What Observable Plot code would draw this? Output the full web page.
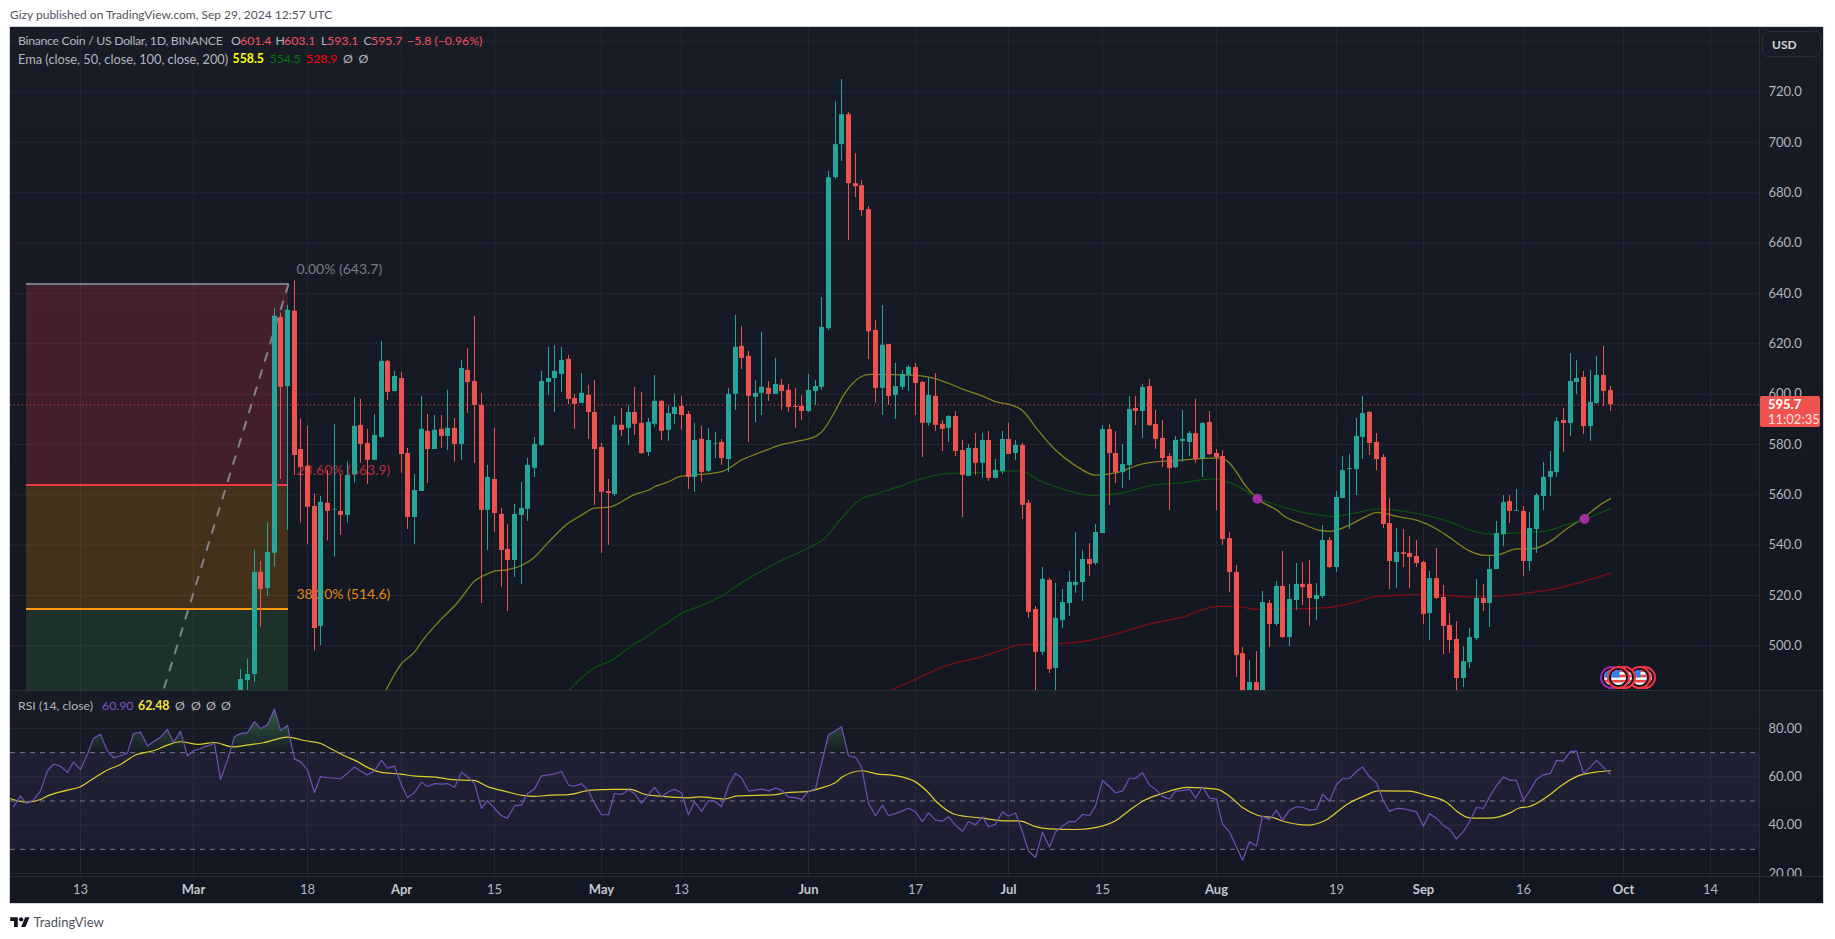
<!DOCTYPE html>
<html><head><meta charset="utf-8">
<script src="https://cdn.jsdelivr.net/npm/d3@7"></script>
<script src="https://cdn.jsdelivr.net/npm/@observablehq/plot@0.6"></script>
<style>
html,body{margin:0;padding:0;background:#fff;}
#page{position:relative;width:1835px;height:939px;overflow:hidden;font-family:Lato,"Liberation Sans",sans-serif;}
#page>*{position:absolute;}
.t{white-space:pre;line-height:1;font-size:12.3px;transform:translateY(-50%);}
.frame{left:9px;top:26px;width:1815px;height:878px;border:1px solid #d1d4dc;box-sizing:border-box;background:#131722;}
.div{background:#2a2e39;}
</style></head><body><div id="page"></div>
<script>
// ---- price data: one entry per day, first candle is 8 Mar 2024 (earlier ones sit below the pane)
const firstCandleDay = 7;
const opens = [478,486.2,488.6,529.2,522.8,536.8,630.5,603,632.9,578,
571.3,555.4,507.7,556.6,553.8,553.4,551.8,568.1,587.6,580.4,
573.7,582.8,613,601,606.2,576.4,551,561.3,585.2,578,
586,583.2,586.4,580,609.4,605,595.5,553.8,566.1,552.2,
538.3,533.9,551.8,554.2,570.5,579.6,604.6,606.2,607.8,613.8,
598.3,596.3,599.5,592.7,578.8,561.3,560.1,587.6,586.4,592.7,
588.4,576.8,588,597.1,585.6,591.9,595.1,591.9,566.9,582,
569.3,580.1,580.8,574,599.9,619,615,598.7,600.3,602.3,
599.9,603.5,601.5,595.1,595.1,593.1,601,602.7,626,686,
699.1,711,683.6,682.8,673.3,625.3,602.3,619.7,599.5,602.7,
607.4,610.6,604.6,588.4,599.1,588,586.4,591.1,577.6,567.3,
578.4,572.5,581.6,566.5,569.3,582,576.4,579.6,556.6,514.4,
497.4,526,491,510,516.8,524,525.1,534.3,532.7,544.6,
585.9,576.4,568.8,571.6,594.3,593.1,603,587.9,582.4,575.2,
570.8,581.2,580.8,584.3,574.4,588.7,576.4,575.2,542.6,529.1,
496.9,478,485.4,478,516.8,508.5,523.6,503.3,518,524.4,
524.4,518.4,519.6,541.8,531.1,558.5,570,570,582.8,592.7,
580.8,574.8,548.6,533.1,537,536.7,535.5,533.1,512.8,526.7,
519.2,508.1,502.5,487,493.3,502.9,518.8,516.8,530.3,544.2,
557.3,553.4,553.4,533.5,546.2,559.3,566.9,568.8,589.5,588.3,
604.6,606.6,587.1,596.3,607.4,601.4];
const highs = [490.6,494.6,537.9,533.5,549,633.9,632.2,635.2,645,590.2,
587.2,560.4,559.3,569.7,587.8,568.1,573.1,598.6,597.9,586,
591.9,620.9,613.4,609,608.6,578.4,568.1,599,591.9,591.5,
591.5,601.5,590.3,613.4,618,630.9,600.3,571.7,586.4,554.6,
548.2,556.2,564.9,574.4,582.8,609,618.6,619.3,618.6,615.4,
599.9,608.2,603.5,605.4,580.4,566.1,591.1,594.3,595.5,602.7,
600.7,590.3,607.4,597.5,595.5,599.9,599.1,593.1,588.4,587.2,
586.4,584.8,582,602.3,631.3,626.9,617,605.4,624.5,605,
614.2,605.8,603.8,602.3,599.5,607.8,605.4,638.4,688.4,716.2,
725,711.8,695.5,684.8,674.5,629.3,635.2,619.7,612.2,609.4,
611.4,612.2,605,606.2,608.2,589.5,591.5,593.1,581.6,580,
584.4,584.4,585.2,574,585.2,588.4,581.6,580.4,557.8,515.6,
531.1,526.8,524.8,522.4,529.5,545,537.9,540.6,548.2,587.5,
587.9,585.1,580,599,599,603.8,605.8,593.5,589.5,576.4,
583.2,593.5,585.1,597.9,588.7,593.1,578,577.6,545,531.9,
499.3,494.1,497.7,521.6,518,525.5,537.5,524.4,532.7,533.1,
533.9,524.7,547.8,543,561.3,575.2,576,590.3,599,593.1,
584.3,576,558.5,546.6,546.2,543.4,541.8,533.5,529.5,538.7,
524,512.8,509.6,499.7,506.9,526.3,524.3,535.5,549.4,559.7,
559.7,562.1,555.3,553,560.5,572.8,577.2,590.7,594.3,616.1,
613.4,609,609.4,615,618.9,603.1];
const lows = [474,482,485.4,507.4,519.7,531.3,566.1,545.8,567.7,548.8,
540.3,497.9,500.1,541.6,535.2,543.9,548.8,564.6,572.5,564.1,
573.7,582.4,597.5,601,568.5,546.2,540.3,561.3,564.5,578,
578.4,577.6,572.9,573.7,592.3,572.5,516.8,537.9,545,523.3,
513.6,527.2,524.4,549.4,566.9,579.2,599.5,592.7,600.7,595.8,
586,596.3,582,555.8,536.7,539.9,559.3,583.2,579.6,583.6,
576,575.2,586.8,581.6,581.2,588,585.6,562.1,561,564.9,
568.9,574.4,571.7,568.9,593.5,609.8,580.8,588.7,591.5,597.1,
599.9,593.5,592.7,586.4,589.5,592.7,595.5,601.5,625.2,685.2,
692.4,661,678.1,670.5,613.7,596.3,591.5,595.5,589.9,601.5,
601,591.5,574.8,587.2,585.2,577.2,580.8,575.2,551,567.3,
567.7,566.5,565.3,566.5,568.1,576,573.7,550.2,510.9,478,
496.2,489,478,506.9,511.7,520.8,517.6,527.5,531.9,544.6,
555.7,564.5,562.5,565.7,587.5,582.4,587.1,578,570.8,553.7,
570.4,572.8,575.2,572.4,566.9,575.6,553.7,539.8,521.2,487.4,
470,476,468,470,499.3,507.7,502.9,499.7,514,516,
507.7,510,518.8,530.7,529.1,558.5,546.2,559.7,574,575.6,
569.6,546.6,522.4,522.8,531.1,522.8,531.1,508.5,502.1,518.4,
496.5,497,482.2,483.4,491,502.1,513.6,507.3,530.3,539.4,
548.6,553.4,527.5,529.5,536.7,553.8,559.3,566.9,576.8,583.2,
599.8,584,581.2,595.9,595.1,593.1];
const closes = [486.6,488.6,529.2,522.4,537.1,630.9,602.7,633.3,575.6,570.9,
555,506.9,557,553.4,554,551.8,567.7,587.2,580,573.7,
583.6,613,600.7,607,576,551,561.7,586,578,585.6,
583.2,586.4,580,610.2,604.6,595.5,553.8,566.9,552.6,537.9,
533.9,552.2,554.6,571.7,580,605,606.2,609,613.4,597.9,
595.9,600.3,592.7,578,561,560.5,587.6,585.6,592.7,588,
576.4,588.8,597.1,585.2,592.3,594.7,591.5,566.9,581.6,568.9,
581.6,580.4,574.4,599.9,618.6,614.2,599.1,600.3,602.7,599.9,
603.8,601,594.7,594.7,593.1,601.5,603,626.5,686,699.1,
711,683.6,682.4,672.9,624.8,602.3,619.4,599.1,603,607.8,
610.6,604.2,588.4,599.5,587.6,586,591.1,577.2,567.7,578.4,
572.5,581.6,566.5,569.7,582,576,579.6,555.8,513.3,497.4,
526.4,490.6,510.9,517.2,525.2,525.2,534.3,532.3,545,585.9,
576.4,568.8,572,593.9,593.1,602.6,587.5,582,574.4,570.4,
581.6,582,584.3,574,588.3,576,574.8,542.2,529.1,496.1,
478,485.4,475,517.2,508.5,523.6,503.3,518.4,524.4,523.1,
518.8,520,541.8,531.1,558.9,569.6,570.4,583.2,592.3,580.4,
574,548.2,533.5,537.1,536.3,535.1,532.7,512.4,526.7,518.8,
507.7,502.1,487,493.7,503.3,518.8,516.8,530.3,544.6,556.9,
553.4,553.7,533.5,546.6,559.7,566.9,569.2,589.1,588.3,605,
606.2,587.1,596.7,607.4,601,595.7];

// ---- EMAs read at sample days (days counted from 1 Mar 2024)
const ema50Days = [28.6,31,33,34.2,37,39.3,42.1,43.9,45,47,49,51,53,55.9,58,59.9,62.2,65.9,67.9,69.2,70.9,72.9,75.9,79.1,82.1,84.9,87.9,90.9,93.1,94,96.1,97.1,99.9,101.1,108.1,112.8,115.1,118.1,119.8,122.8,124,126,129,132,135,138,142,144.3,147.3,150.3,153.3,154.8,156,157.2,159.2,162.2,163.2,166,168.2,170.2,173.2,175.2,177.2,180.2,183.2,186.2,188.2,190.7,193.2,194.7,198.2,200.2,203.2,205.2,208.1,210.7,212];
const ema50Vals = [482,492.9,497.5,502.1,510.7,516.7,526,528.6,529.7,530.2,531.9,535.2,541.2,548.5,551.9,554.7,555.1,560.1,561.7,563.5,565,567.3,568.1,569.3,574,577,579.9,581.6,583.2,584.9,593.5,598.8,607,607.8,607.4,604.5,602,599.2,597.1,595.2,593.5,586.9,577.8,571.6,567.8,568.7,572.3,573.2,573.6,574.3,574.7,573,569,564.1,558.4,553.7,551.5,548.4,546.1,545.5,548.2,551.1,553,551.3,549.8,546.2,542.5,538.1,535.9,535.9,538.5,538.5,541.8,545.8,551.1,556.4,558.5];
const ema100Days = [56,57.9,59.9,62.2,65.9,67.9,69.2,71.1,72.9,75.9,79.6,82.1,87.9,93.1,94.1,96.9,100,101.8,105.3,108.1,112.8,119.3,123.3,124.8,126,129,132,135,139,143.3,147.3,152.8,154,156,159.2,162.7,168.2,170.7,173.7,177.2,180.2,183.7,187.7,191.2,194.7,198.2,202.2,205.2,208.2,212];
const ema100Vals = [482,486.9,491.3,493.8,500.8,503.7,506.4,509.4,512.7,516,520.7,525.3,533.9,540.3,541.9,550.7,558.4,560.1,563,565.7,568.4,569,569.5,568.6,566.5,563.2,560.8,559.7,560.8,563.7,564.6,566.3,565.7,563.7,558.8,555.4,552,551.4,552.7,554.4,553.8,552.2,549.5,545.8,544.3,544.9,545.5,547.8,550.4,554.5];
const ema200Days = [104.3,107.8,112.8,117.8,120.8,123.8,129,134,138.8,142.8,147.8,153.3,155.8,159.3,164.8,169.7,173.2,177.2,180.7,183.2,187.7,191.2,194.7,199.7,203.2,207.2,212];
const ema200Vals = [482.3,486.5,492.2,495.5,498.1,500.5,500.8,502.1,505.4,508.4,511.3,515.7,515.7,514.5,514.7,515.2,516.9,519.6,520.1,520.4,520,519.3,519.6,521,522.4,525,528.9];
const crossDays = [159.2,208.1];
const crossVals = [558.4,550.4];

// ---- RSI: one value per day from 3 Feb 2024 (day -27)
const firstRsiDay = -27;
const rsi = [47.6,52,49,50.3,54.2,62.5,65.2,64.4,61.8,66.1,63,69.4,75.9,77.5,70.6,67.9,68.6,69.9,77.9,78.5,72.7,74.5,76.4,79.6,74.2,78.8,68.6,
70.8,71.7,72.8,73.8,58.9,66.9,76.6,77.9,78.3,82.8,79.9,81.5,87.9,79.2,81.2,67.3,66.3,62.8,53.5,60.1,59.6,59.4,59.2,61.4,64.1,62.3,60.8,62.5,66.8,63.6,64.4,
56.6,51.3,53.5,57.8,56,57.2,57,57.2,55.6,61.9,60,57.2,46.9,50.1,46.9,43.9,42.9,48,48.4,53.1,55,60.4,60.8,61.2,62.2,56.6,56.1,57.2,54.2,49,44.3,44.3,53.1,
52.7,54.5,53.1,49,52.7,55.6,51.7,53.8,54.8,53.4,44.3,49.7,45.7,50.2,49.7,47.6,56.3,61.4,59.6,54.1,54.5,55,54.2,55.3,54.5,51.6,51.4,50.6,54.1,55,65.5,77.4,79,80.7,
68.6,68.1,64.1,49.1,43.9,48.3,44,44.8,45.9,47,45.5,41.5,45.1,42.1,41.7,43.4,39.9,37.5,41.5,40.1,43.4,39.3,40.4,45.5,43.7,45,37.2,29.2,26.6,37.1,31,37.2,39.6,41.5,41.5,44.4,44,47.9,
58.5,55.9,53.4,54.1,59.4,59.4,61.7,56.6,54.8,51.9,50.8,54.1,54.3,54.9,51.2,55.9,51.2,50.8,
40.4,37.2,31,25.5,33.1,31.4,43.7,42.3,46.2,42.1,46.2,47.6,47.4,46.2,46.5,52.8,49.9,56.8,59.2,59.3,62.2,64.1,60,57.5,49.9,45.7,46.9,46.8,46.2,45.5,39.6,44.8,42.8,39.9,38.3,34.3,37.4,41.4,47.3,46.9,51.7,56.4,59.9,58.6,58.5,50.3,54.1,58.9,60.8,61.4,66.8,66.6,70.5,70.6,61.4,64,66.8,63.9,60.9];
const rsiMaDays = [-27.5,-25,-23,-22,-19,-17,-15,-13,-11,-8.8,-6.1,-4,-2,0.7,3,5.7,8.1,10.4,14,16.7,18.9,20.8,22.9,24,26.1,27.9,30.9,33.2,36.2,38.9,41.8,44.2,46.3,49.2,51,53.4,56,59.3,62.8,65.4,67.5,69.8,74,75.7,79.3,81.4,87,88.5,91.7,94,96.2,97.1,100.1,102.1,104.7,108,109.8,111.2,114.2,118,120.7,123.7,126,128,131.9,134.9,137.9,140.2,142.3,145,148.8,153,155,156.9,159.2,161.9,163,166.9,169.3,172.8,175.2,177.3,182,184.4,187.6,189.1,191.1,193.8,197.1,198.3,200,203,204.5,207.1,209.8,212];
const rsiMaVals = [50.9,49.5,50.6,52.1,54.5,55.9,59.3,62.8,65.1,69,70.8,73.1,74.5,73.4,74.2,72.4,73.2,74.1,76.4,74.9,73.8,71.3,68.3,66.9,63.7,61.9,61.1,60.3,59.9,58.8,58.5,55.6,54.2,52.3,51.9,52.4,52.6,54.5,54.8,54.8,52.8,52,51.3,51.7,50.8,52.1,52.6,53.4,53.9,55.4,57.9,60,62.5,61.2,60.6,57.9,53.8,49.7,44.3,42.9,41.9,41.7,39.4,38.5,38.2,39,41.8,46.5,50.3,53.1,55.6,54.9,52,47.3,44.1,42.8,41.7,40,41.8,49,52.1,54.2,54.1,52.4,49.2,45.5,42.9,42.9,45.2,47,47.7,52.8,56.1,60.3,61.9,62.5];

// ---- axes, fibonacci, events
const priceTicks = [500,520,540,560,580,600,620,640,660,680,700,720];
const priceGrid = [...priceTicks,740];
const rsiTicks = [20,40,60,80];
const rsiLevels = [70,50,30];
const dateTickDays = [-17,0,17,31,45,61,73,92,108,122,136,153,171,184,199,214,227];
const dateTickLabels = ["13","Mar","18","Apr","15","May","13","Jun","17","Jul","15","Aug","19","Sep","16","Oct","14"];
const fibStartDay = -25.06, fibEndDay = 14.1;
const fibLevels = [643.7,563.9,514.6];
const fibLow = 305.7;
const fibTexts = ["0.00% (643.7)","23.60% (563.9)","38.20% (514.6)"];
const fibColors = ["#787b86","#f23645","#ff9800"];
const lastClose = 595.7;

const day = d => new Date(Date.UTC(2024,2,1) + d*864e5);
const xDomain = [day(-27.47), day(234.36)];
const W = 1813, MR = 64;
const xScale = {type:"utc", domain:xDomain, round:true, axis:null};
const font = "Lato, 'Liberation Sans', sans-serif";
const gridColor = "#232733", axisText = "#b2b5be";
const UP = "#26a69a", DOWN = "#ef5350";
const candles = opens.map((o,i)=>({date:day(firstCandleDay+i),o,h:highs[i],l:lows[i],c:closes[i]}));
const pairs = (ds,vs)=>ds.map((d,i)=>({date:day(d),v:vs[i]}));
const dateTicks = dateTickDays.map(day);
const bgGrad = "linear-gradient(#181c27,#131722)";
const candleColor = d => d.c >= d.o ? UP : DOWN;
const flagSvg = (ring) => "data:image/svg+xml;utf8," + encodeURIComponent(
 `<svg xmlns="http://www.w3.org/2000/svg" width="24" height="24" viewBox="0 0 24 24"><defs><clipPath id="c"><circle cx="12" cy="12" r="7.5"/></clipPath></defs>`+
 `<circle cx="12" cy="12" r="10.5" fill="#131722" stroke="${ring}" stroke-width="2"/>`+
 `<g clip-path="url(#c)"><rect x="4" y="4" width="16" height="16" fill="#fff"/><rect x="4" y="4" width="16" height="2.6" fill="#f0444c"/><rect x="4" y="9.2" width="16" height="2.6" fill="#f0444c"/><rect x="4" y="14.4" width="16" height="2.6" fill="#f0444c"/><rect x="4" y="4" width="9" height="8" fill="#2f80e8"/></g></svg>`);
const eventRows = [{d:212.2,ring:"#9c27b0"},{d:217.2,ring:"#f23645"},{d:216.4,ring:"#f23645"},{d:214.1,ring:"#f23645"},{d:213.2,ring:"#f23645"}];
const eventPrice = 487.4;

// main price pane
const main = Plot.plot({
  width:W, height:663, marginTop:0, marginBottom:0, marginLeft:0, marginRight:MR,
  x:xScale, y:{domain:[482.24,745.65], axis:null},
  style:{background:bgGrad, fontFamily:font, fontSize:"13px", overflow:"hidden"},
  marks:[
    Plot.gridX(dateTicks,{stroke:gridColor,strokeOpacity:1}),
    Plot.gridY(priceGrid,{stroke:gridColor,strokeOpacity:1}),
    Plot.rect([{}],{x1:()=>day(fibStartDay),x2:()=>day(fibEndDay),y1:()=>fibLevels[1],y2:()=>fibLevels[0],fill:"#f23645",fillOpacity:0.21}),
    Plot.rect([{}],{x1:()=>day(fibStartDay),x2:()=>day(fibEndDay),y1:()=>fibLevels[2],y2:()=>fibLevels[1],fill:"#ff9800",fillOpacity:0.2}),
    Plot.rect([{}],{x1:()=>day(fibStartDay),x2:()=>day(fibEndDay),y1:()=>400,y2:()=>fibLevels[2],fill:"#4caf50",fillOpacity:0.17,clip:"frame"}),
    ...fibLevels.map((v,i)=>Plot.ruleY([v],{x1:day(fibStartDay),x2:day(fibEndDay),stroke:fibColors[i],strokeWidth:2})),
    Plot.line([{date:day(fibStartDay),v:fibLow},{date:day(fibEndDay),v:fibLevels[0]}],{x:"date",y:"v",stroke:"#80838e",strokeWidth:2,strokeDasharray:"8 10",clip:"frame"}),
    Plot.text(fibTexts,{x:()=>day(15.3),y:(d,i)=>[649.5,569.7,520.4][i],text:d=>d,textAnchor:"start",fontSize:14,fill:(d,i)=>["#787b86","#b72c3d","#e08a0e"][i]}),
    Plot.line(pairs(ema50Days,ema50Vals),{x:"date",y:"v",stroke:"#83831a",strokeWidth:1.3,curve:"monotone-x",clip:"frame"}),
    Plot.line(pairs(ema100Days,ema100Vals),{x:"date",y:"v",stroke:"#0d5012",strokeWidth:1.3,curve:"monotone-x",clip:"frame"}),
    Plot.line(pairs(ema200Days,ema200Vals),{x:"date",y:"v",stroke:"#800d17",strokeWidth:1.3,curve:"monotone-x",clip:"frame"}),
    Plot.ruleX(candles,{x:"date",y1:"l",y2:"h",stroke:candleColor,strokeWidth:1,clip:"frame"}),
    Plot.ruleX(candles,{x:"date",y1:"o",y2:"c",stroke:candleColor,strokeWidth:5,clip:"frame"}),
    Plot.dot(pairs(crossDays,crossVals),{x:"date",y:"v",r:5,fill:"#ad30ad",fillOpacity:0.9}),
    Plot.ruleY([lastClose],{stroke:DOWN,strokeDasharray:"1 3",strokeWidth:1}),
    Plot.image(eventRows,{x:d=>day(d.d),y:()=>eventPrice,src:d=>flagSvg(d.ring),width:24,height:24}),
    Plot.axisY(priceTicks,{anchor:"right",tickSize:0,tickPadding:9,tickFormat:d=>d.toFixed(1),fill:axisText,label:null,fontSize:13})
  ]
});

// RSI pane
const rsiRows = rsi.map((v,i)=>({date:day(firstRsiDay+i),v}));
const rsiPlot = Plot.plot({
  width:W, height:186, marginTop:0, marginBottom:0, marginLeft:0, marginRight:MR,
  x:xScale, y:{domain:[18.76,95.7], axis:null},
  style:{background:bgGrad, fontFamily:font, fontSize:"13px", overflow:"hidden"},
  marks:[
    (index,{y})=>{
      const defs = d3.create("svg:defs");
      const g = defs.append("linearGradient").attr("id","ob").attr("gradientUnits","userSpaceOnUse").attr("x1",0).attr("x2",0).attr("y1",y(88)).attr("y2",y(70));
      g.append("stop").attr("offset",0).attr("stop-color","#3f8f50").attr("stop-opacity",0.6);
      g.append("stop").attr("offset",0.999).attr("stop-color","#3f8f50").attr("stop-opacity",0.02);
      g.append("stop").attr("offset",1).attr("stop-color","#3f8f50").attr("stop-opacity",0);
      return defs.node();
    },
    Plot.gridX(dateTicks,{stroke:gridColor,strokeOpacity:1}),
    Plot.gridY(rsiTicks,{stroke:gridColor,strokeOpacity:1}),
    Plot.rect([{}],{x1:()=>xDomain[0],x2:()=>xDomain[1],y1:()=>30,y2:()=>70,fill:"#7e57c2",fillOpacity:0.1}),
    Plot.ruleY(rsiLevels,{stroke:"#787b86",strokeDasharray:"5 5"}),
    Plot.areaY(rsiRows,{x:"date",y1:()=>70,y2:"v",fill:"url(#ob)"}),
    Plot.line(pairs(rsiMaDays,rsiMaVals),{x:"date",y:"v",stroke:"#dccd2c",strokeWidth:1.2,curve:"monotone-x",clip:"frame"}),
    Plot.line(rsiRows,{x:"date",y:"v",stroke:"#7050b8",strokeWidth:1.2,clip:"frame"}),
    Plot.axisY(rsiTicks,{anchor:"right",tickSize:0,tickPadding:9,tickFormat:d=>d.toFixed(2),fill:axisText,label:null,fontSize:13})
  ]
});

// date axis strip
const tickRows = dateTicks.map((date,i)=>({date,label:dateTickLabels[i]}));
const isMonth = d => /^[A-Z]/.test(d.label);
const dateAxis = Plot.plot({
  width:W, height:27, marginTop:0, marginBottom:0, marginLeft:0, marginRight:MR,
  x:xScale,
  style:{background:"#131722", fontFamily:font, fontSize:"13px", overflow:"hidden"},
  marks:[
    Plot.text(tickRows.filter(d=>!isMonth(d)),{x:"date",text:"label",frameAnchor:"middle",fill:axisText,fontSize:13}),
    Plot.text(tickRows.filter(isMonth),{x:"date",text:"label",frameAnchor:"middle",fill:"#c4c7cf",fontSize:13,fontWeight:"bold"})
  ]
});

// ---- page assembly
const page = document.getElementById("page");
const add = (html) => { const t=document.createElement("template"); t.innerHTML=html.trim(); const n=t.content.firstChild; page.appendChild(n); return n; };
add(`<div class="frame"></div>`);
const place = (svg,top)=>{ svg.style.position="absolute"; svg.style.left="10px"; svg.style.top=top+"px"; svg.style.maxWidth="none"; page.appendChild(svg); };
place(main,27); place(rsiPlot,690); place(dateAxis,876);
add(`<div class="div" style="left:1759px;top:27px;width:1px;height:876px"></div>`);
add(`<div class="div" style="left:10px;top:690px;width:1813px;height:1px"></div>`);
add(`<div class="div" style="left:10px;top:876px;width:1813px;height:1px"></div>`);
const text = (x,y,s,color,extra="")=>add(`<span class="t" style="left:${x}px;top:${y}px;color:${color};${extra}">${s}</span>`);
const red="#f7525f", lab="#b2b5be";
text(10,15,"Gizy published on TradingView.com, Sep 29, 2024 12:57 UTC","#50535e","font-size:12px");
text(18,41,"Binance Coin / US Dollar, 1D, BINANCE",lab,"letter-spacing:-0.3px");
text(231,41,"O",lab); text(240,41,"601.4",red);
text(275.5,41,"H",lab); text(284,41,"603.1",red);
text(321,41,"L",lab); text(327,41,"593.1",red);
text(363.5,41,"C",lab); text(371,41,"595.7",red);
text(407,41,"−5.8 (−0.96%)",red);
text(18,59,"Ema (close, 50, close, 100, close, 200)",lab,"font-size:12.8px");
text(232.5,59,"558.5","#ffff00","font-weight:bold");
text(269.5,59,"554.5","#007a00");
text(306,59,"528.9","#ff0000");
text(343,59,"Ø",lab); text(358.5,59,"Ø",lab);
text(18,706,"RSI (14, close)",lab);
text(102,706,"60.90","#7e57c2");
text(138,706,"62.48","#f7e43a","font-weight:bold");
[175,191,206,221].forEach(x=>text(x,706,"Ø",lab));
add(`<div style="left:1762px;top:31px;width:59px;height:26px;box-sizing:border-box;border:1px solid #2a2e39;border-radius:6px"></div>`);
text(1772,45,"USD","#d1d4dc","font-weight:bold;font-size:12px");
add(`<div style="left:1760px;top:396px;width:60px;height:31px;background:#ef5350;border-radius:2px"></div>`);
text(1768,404,"595.7","#fff","font-weight:bold;font-size:13px");
text(1768,418.5,"11:02:35","#ffe0de","font-size:13px");
add(`<svg style="left:10px;top:915px" width="20" height="12" viewBox="0 0 36 22"><path d="M14 22H7V11H0V4h14v18zM28 22h-8l7.5-18h8L28 22z" fill="#131722"/><circle cx="20" cy="8" r="4" fill="#131722"/></svg>`);
text(33.5,922,"TradingView","#50535e","font-size:13px");
</script></body></html>
